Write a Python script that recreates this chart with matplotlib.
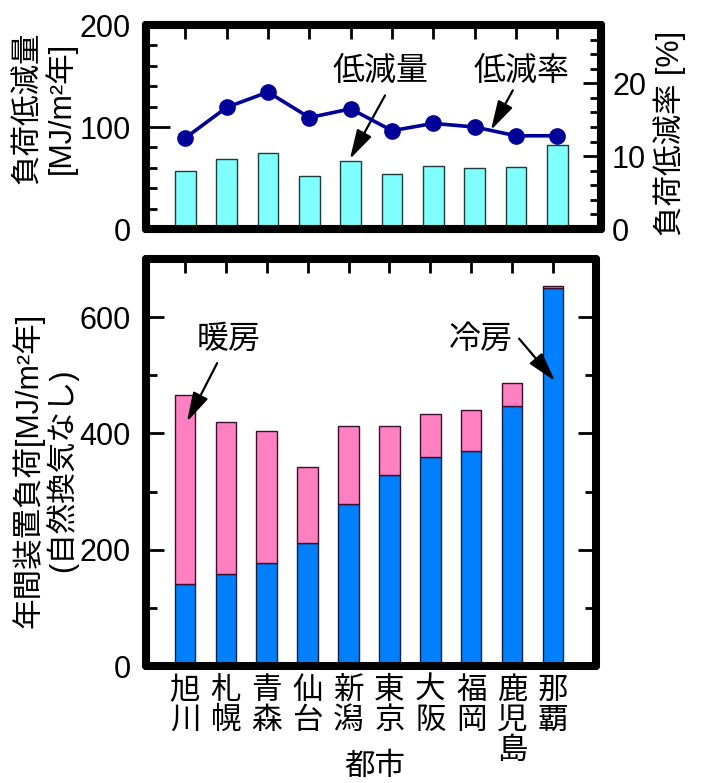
import numpy as np
import matplotlib
matplotlib.use("Agg")
import matplotlib.pyplot as plt
from matplotlib.ticker import MultipleLocator

plt.rcParams['font.family'] = ['Liberation Sans', 'Noto Sans CJK JP']

# city data
cities = ["旭\n川", "札\n幌", "青\n森", "仙\n台", "新\n潟", "東\n京", "大\n阪", "福\n岡", "鹿\n児\n島", "那\n覇"]
reduction = [57, 69, 75, 52, 67, 54, 62, 60, 61, 82]          # MJ/m2 per year
reduction_rate = [12.5, 16.7, 18.8, 15.3, 16.5, 13.5, 14.5, 14.0, 12.8, 12.8]  # %
cooling = [141, 159, 178, 212, 279, 329, 360, 369, 448, 650]
heating = [325, 260, 227, 131, 133, 83, 74, 71, 38, 3]

x = np.arange(len(cities))
SPINE_W = 5.8
W, H = 702, 783


def frame(ax):
    for s in ax.spines.values():
        s.set_linewidth(SPINE_W)
        s.set_capstyle('round')
        s.set_joinstyle('round')


def px(xp, yp):
    return xp / W, 1 - yp / H


fig = plt.figure(figsize=(7.02, 7.83), dpi=100)

# ---- upper panel: load reduction and reduction rate
ax1 = fig.add_axes([0.208, 0.7075, 0.648, 0.2605])
ax1.bar(x, reduction, width=0.5, color='#80ffff', edgecolor='#1e3c3c', linewidth=1.0, zorder=2)
ax1.set_xlim(-0.95, 10.05)
ax1.set_ylim(0, 200)
ax1.yaxis.set_major_locator(MultipleLocator(100))
ax1.yaxis.set_minor_locator(MultipleLocator(20))
ax1.set_xticks(x)
ax1.tick_params(axis='x', bottom=False, top=True, labelbottom=False, direction='in', length=10, width=2)
ax1.tick_params(axis='y', which='major', direction='in', length=17, width=2, labelsize=22, pad=11)
ax1.tick_params(axis='y', which='minor', direction='in', length=8, width=2)
frame(ax1)

ax1r = ax1.twinx()
ax1r.plot(x, reduction_rate, '-o', color='#000099', lw=2.6, markersize=11, zorder=3)
ax1r.set_ylim(0, 28)
ax1r.yaxis.set_major_locator(MultipleLocator(10))
ax1r.yaxis.set_minor_locator(MultipleLocator(2))
ax1r.tick_params(axis='y', which='major', direction='in', length=13, width=2, labelsize=22, pad=8)
ax1r.tick_params(axis='y', which='minor', direction='in', length=8, width=2)
frame(ax1r)

fig.text(*px(45, 108), "負荷低減量\n[MJ/m²年]", fontsize=22, linespacing=1.05,
         rotation=90, ha='center', va='center', rotation_mode='anchor')
fig.text(*px(670, 133), "負荷低減率 [%]", fontsize=22,
         rotation=90, ha='center', va='center', rotation_mode='anchor')

arrow = dict(arrowstyle='-|>,head_length=0.9,head_width=0.25', lw=1.6, color='k',
             mutation_scale=20, shrinkA=0, shrinkB=0)
ax1.text(4.71, 154, "低減量", fontsize=23, ha='center', va='center')
ax1.annotate("", xy=(3.98, 68.6), xytext=(4.83, 131), arrowprops=arrow)
ax1.text(8.12, 154, "低減率", fontsize=23, ha='center', va='center')
ax1.annotate("", xy=(7.39, 97), xytext=(7.92, 136), arrowprops=arrow, zorder=5)

# ---- lower panel: annual equipment load
ax2 = fig.add_axes([0.208, 0.1494, 0.641, 0.5198])
ax2.bar(x, cooling, width=0.5, color='#0080ff', edgecolor='#10203a', linewidth=1.0, zorder=2)
ax2.bar(x, heating, width=0.5, bottom=cooling, color='#ff80c0', edgecolor='#3a1030', linewidth=1.0, zorder=2)
ax2.set_xlim(-0.95, 10.05)
ax2.set_ylim(0, 700)
ax2.yaxis.set_major_locator(MultipleLocator(200))
ax2.yaxis.set_minor_locator(MultipleLocator(100))
ax2.set_xticks(x)
ax2.set_xticklabels(cities, fontsize=22, linespacing=1.0, va='top')
ax2.tick_params(axis='x', bottom=False, top=True, labelbottom=True, direction='in', length=10, width=2, pad=7)
ax2.tick_params(axis='y', which='major', direction='in', length=13, width=2, labelsize=22, pad=11,
                right=True)
ax2.tick_params(axis='y', which='minor', direction='in', length=8, width=2, right=True)
frame(ax2)

fig.text(*px(45, 470), "年間装置負荷[MJ/m²年]\n(自然換気なし)", fontsize=22, linespacing=1.05,
         rotation=90, ha='center', va='center', rotation_mode='anchor')

ax2.text(1.08, 561, "暖房", fontsize=23, ha='center', va='center')
ax2.annotate("", xy=(0.05, 420), xytext=(0.79, 521), arrowprops=arrow)
ax2.text(7.24, 561, "冷房", fontsize=23, ha='center', va='center')
ax2.annotate("", xy=(9.05, 490), xytext=(8.17, 563), arrowprops=arrow)

fig.text(*px(375, 767), "都市", fontsize=22, ha='center', va='center')

fig.savefig("out.png", dpi=100)
